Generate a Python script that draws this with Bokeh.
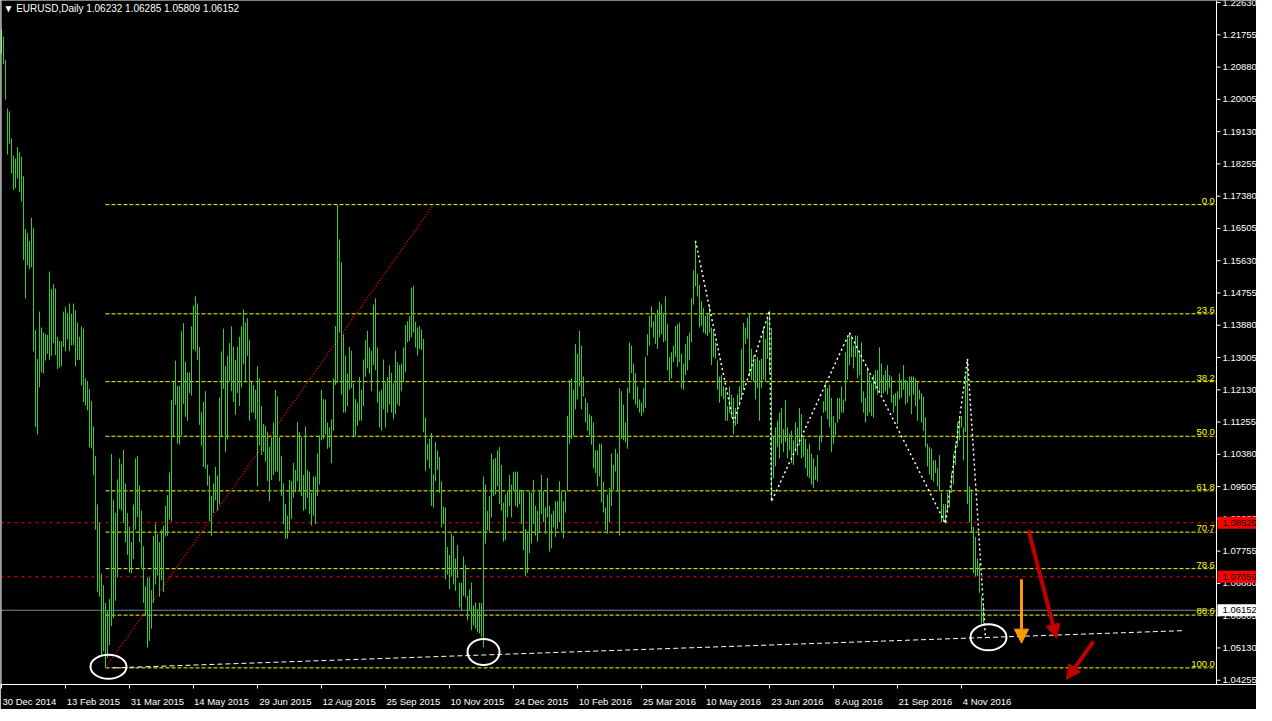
from bokeh.plotting import figure
from bokeh.models import (FixedTicker, LinearAxis, Span, Label, Arrow,
                          NormalHead, Range1d, ColumnDataSource)
from bokeh.embed import file_html
from bokeh.resources import INLINE
from bokeh.core.properties import value

# ---------------- data ----------------
highs = [
1.2190,1.2170,1.2107,1.1976,1.1968,1.1895,1.1848,1.1840,1.1871,1.1857,
1.1845,1.1792,1.1649,1.1638,1.1616,1.1680,1.1651,1.1375,1.1297,1.1425,
1.1382,1.1369,1.1364,1.1362,1.1534,1.1486,1.1499,1.1488,1.1357,1.1345,
1.1345,1.1425,1.1438,1.1422,1.1447,1.1419,1.1447,1.1428,1.1396,1.1357,
1.1385,1.1379,1.1244,1.1237,1.1215,1.1183,1.1114,1.1033,1.0902,1.0853,
1.0715,1.0683,1.0635,1.0614,1.0646,1.1039,1.0914,1.0879,1.0970,1.1027,
1.1013,1.1050,1.0959,1.0879,1.0842,1.0800,1.0902,1.1027,1.1033,1.0954,
1.0885,1.0789,1.0680,1.0704,1.0704,1.0670,1.0817,1.0850,1.0822,1.0800,
1.0834,1.0845,1.0898,1.0927,1.0989,1.1186,1.1235,1.1292,1.1224,1.1224,
1.1372,1.1394,1.1289,1.1260,1.1260,1.1385,1.1442,1.1467,1.1447,1.1329,
1.1152,1.1180,1.1209,1.1010,1.0981,1.0925,1.0959,1.1004,1.0981,1.1192,
1.1317,1.1379,1.1277,1.1305,1.1340,1.1385,1.1329,1.1294,1.1329,1.1357,
1.1385,1.1431,1.1396,1.1407,1.1348,1.1235,1.1226,1.1213,1.1277,1.1244,
1.1169,1.1120,1.1115,1.1098,1.1058,1.1084,1.1124,1.1213,1.1195,1.1084,
1.1034,1.0960,1.0903,1.0872,1.0969,1.0965,1.1015,1.0996,1.1126,1.1098,
1.1084,1.0982,1.1113,1.0996,1.0991,1.0934,1.0978,1.0978,1.1040,1.1089,
1.1213,1.1187,1.1187,1.1124,1.1111,1.1133,1.1244,1.1386,1.1714,1.1621,
1.1559,1.1364,1.1306,1.1257,1.1330,1.1319,1.1231,1.1188,1.1178,1.1248,
1.1213,1.1295,1.1348,1.1373,1.1328,1.1319,1.1444,1.1461,1.1328,1.1209,
1.1213,1.1295,1.1233,1.1248,1.1280,1.1259,1.1231,1.1319,1.1288,1.1280,
1.1284,1.1328,1.1389,1.1399,1.1413,1.1490,1.1495,1.1397,1.1382,1.1386,
1.1377,1.1351,1.1138,1.1067,1.1080,1.1096,1.0984,1.1071,1.1049,1.1031,
1.0965,1.0896,1.0894,1.0787,1.0765,1.0823,1.0816,1.0756,1.0792,1.0690,
1.0690,1.0761,1.0738,1.0654,1.0672,1.0690,1.0628,1.0636,1.0619,1.0636,
1.0635,1.0978,1.0956,1.0885,1.0925,1.1040,1.1025,1.1028,1.1049,1.1058,
1.1009,1.0907,1.0929,1.0938,1.0982,1.0956,1.0991,1.0991,1.0991,1.0942,
1.0942,1.0942,1.0836,1.0823,1.0938,1.0934,1.0969,1.0898,1.0885,1.0938,
1.0982,1.0938,1.0894,1.0974,1.0898,1.0876,1.0885,1.0911,1.0911,1.0965,
1.0938,1.0911,1.0938,1.1142,1.1240,1.1244,1.1213,1.1337,1.1311,1.1373,
1.1333,1.1249,1.1191,1.1178,1.1147,1.1142,1.1124,1.1049,1.1049,1.1067,
1.1067,1.0963,1.0894,1.0929,1.0947,1.1040,1.1009,1.1053,1.1040,1.1217,
1.1209,1.1173,1.1124,1.1217,1.1342,1.1333,1.1284,1.1258,1.1222,1.1187,
1.1178,1.1217,1.1302,1.1364,1.1413,1.1439,1.1399,1.1417,1.1430,1.1452,
1.1444,1.1422,1.1466,1.1391,1.1302,1.1315,1.1333,1.1386,1.1391,1.1395,
1.1311,1.1284,1.1337,1.1359,1.1368,1.1461,1.1537,1.1617,1.1528,1.1497,
1.1453,1.1435,1.1413,1.1422,1.1444,1.1382,1.1373,1.1342,1.1293,1.1249,
1.1253,1.1222,1.1217,1.1169,1.1222,1.1200,1.1191,1.1164,1.1200,1.1222,
1.1324,1.1395,1.1382,1.1408,1.1420,1.1324,1.1306,1.1297,1.1302,1.1293,
1.1297,1.1382,1.1351,1.1408,1.1427,1.1380,1.1089,1.1111,1.1129,1.1151,
1.1164,1.1107,1.1185,1.1111,1.1093,1.1102,1.1076,1.1124,1.1111,1.1164,
1.1147,1.1084,1.1080,1.1053,1.1067,1.1040,1.1027,1.1005,1.1036,1.1089,
1.1142,1.1182,1.1235,1.1218,1.1226,1.1191,1.1142,1.1124,1.1191,1.1191,
1.1222,1.1187,1.1315,1.1355,1.1368,1.1360,1.1333,1.1360,1.1360,1.1320,
1.1342,1.1209,1.1191,1.1275,1.1253,1.1231,1.1253,1.1266,1.1266,1.1328,
1.1284,1.1253,1.1266,1.1280,1.1253,1.1249,1.1200,1.1204,1.1209,1.1258,
1.1240,1.1280,1.1240,1.1235,1.1249,1.1249,1.1249,1.1244,1.1235,1.1213,
1.1204,1.1195,1.1138,1.1067,1.1058,1.1053,1.1022,1.1022,1.1000,1.1036,
1.0934,1.0903,1.0903,1.0934,1.0943,1.0987,1.1040,1.1067,1.1124,1.1142,
1.1142,1.1111,1.1253,1.1297,1.0951,1.0943,1.0841,1.0814,1.0756,1.0743,
1.0654,1.06285]

lows = [
1.2125,1.2096,1.2000,1.1851,1.1880,1.1800,1.1755,1.1760,1.1786,1.1750,
1.1724,1.1565,1.1460,1.1550,1.1540,1.1545,1.1317,1.1112,1.1092,1.1220,
1.1260,1.1257,1.1292,1.1310,1.1294,1.1305,1.1340,1.1307,1.1269,1.1273,
1.1277,1.1329,1.1317,1.1350,1.1317,1.1334,1.1334,1.1277,1.1294,1.1294,
1.1225,1.1180,1.1171,1.1157,1.1057,1.1054,1.0981,1.0834,1.0664,1.0652,
1.0494,1.0504,1.0459,1.0487,1.0521,1.0572,1.0594,1.0641,1.0704,1.0890,
1.0885,1.0851,1.0800,1.0765,1.0717,1.0715,1.0754,1.0834,1.0868,1.0800,
1.0731,1.0635,1.0600,1.0514,1.0532,1.0565,1.0635,1.0685,1.0709,1.0652,
1.0697,1.0664,1.0815,1.0817,1.0861,1.0856,1.1084,1.1172,1.1067,1.1064,
1.1089,1.1175,1.1140,1.1129,1.1204,1.1197,1.1322,1.1317,1.1294,1.1118,
1.1061,1.1004,1.0999,1.0953,1.0856,1.0817,1.0879,1.0913,1.0885,1.0902,
1.1084,1.1215,1.1044,1.1079,1.1237,1.1209,1.1180,1.1145,1.1204,1.1169,
1.1220,1.1282,1.1237,1.1305,1.1129,1.1151,1.1151,1.1133,1.0951,1.1062,
1.1036,1.1045,1.1018,1.0965,1.0911,1.0969,1.0982,1.0991,1.0991,1.0965,
1.0925,1.0849,1.0809,1.0809,1.0832,1.0863,1.0920,1.0935,1.0965,1.0938,
1.0925,1.0885,1.0889,1.0920,1.0876,1.0845,1.0872,1.0849,1.0925,1.0956,
1.1076,1.1080,1.1093,1.1053,1.1058,1.1014,1.1102,1.1226,1.1231,1.1368,
1.1200,1.1151,1.1151,1.1169,1.1213,1.1218,1.1084,1.1089,1.1115,1.1129,
1.1129,1.1169,1.1248,1.1271,1.1257,1.1209,1.1280,1.1266,1.1178,1.1111,
1.1102,1.1160,1.1111,1.1151,1.1173,1.1151,1.1133,1.1147,1.1173,1.1169,
1.1209,1.1235,1.1262,1.1342,1.1346,1.1355,1.1368,1.1328,1.1306,1.1324,
1.1321,1.1098,1.0993,1.1022,1.1000,1.0898,1.0894,1.0965,1.0996,1.0934,
1.0840,1.0849,1.0699,1.0712,1.0672,1.0707,1.0685,1.0668,1.0703,1.0623,
1.0614,1.0654,1.0650,1.0588,1.0614,1.0561,1.0574,1.0566,1.0557,1.0552,
1.0543,1.0515,1.0796,1.0832,1.0827,1.0867,1.0925,1.0929,1.0951,1.0903,
1.0885,1.0801,1.0805,1.0867,1.0898,1.0867,1.0938,1.0898,1.0894,1.0903,
1.0849,1.0778,1.0708,1.0716,1.0770,1.0796,1.0849,1.0818,1.0801,1.0827,
1.0876,1.0854,1.0823,1.0867,1.0774,1.0783,1.0840,1.0814,1.0836,1.0854,
1.0827,1.0810,1.0880,1.0938,1.1067,1.1080,1.1089,1.1160,1.1187,1.1222,
1.1160,1.1195,1.1124,1.1102,1.1089,1.1064,1.1000,1.0987,1.0951,1.0978,
1.0907,1.0880,1.0832,1.0823,1.0854,1.0898,1.0942,1.0991,1.0938,1.0818,
1.1080,1.1076,1.1071,1.1053,1.1204,1.1258,1.1187,1.1173,1.1164,1.1151,
1.1142,1.1151,1.1164,1.1306,1.1333,1.1382,1.1355,1.1337,1.1324,1.1355,
1.1364,1.1342,1.1346,1.1266,1.1235,1.1244,1.1288,1.1302,1.1275,1.1288,
1.1217,1.1213,1.1253,1.1266,1.1293,1.1342,1.1444,1.1493,1.1466,1.1382,
1.1386,1.1368,1.1364,1.1359,1.1368,1.1280,1.1302,1.1297,1.1213,1.1178,
1.1195,1.1187,1.1129,1.1129,1.1151,1.1138,1.1093,1.1115,1.1120,1.1169,
1.1191,1.1213,1.1337,1.1351,1.1249,1.1240,1.1235,1.1187,1.1218,1.1129,
1.1218,1.1240,1.1235,1.1297,1.1257,1.0910,1.0973,1.1005,1.1058,1.1027,
1.1067,1.1044,1.1071,1.1027,1.1049,1.1014,1.1009,1.1044,1.1036,1.1062,
1.1027,1.1031,1.1000,1.0978,1.0973,1.0956,1.0947,1.0969,1.0964,1.1049,
1.1071,1.1151,1.1155,1.1133,1.1111,1.1044,1.1067,1.1089,1.1124,1.1133,
1.1151,1.1151,1.1182,1.1240,1.1280,1.1302,1.1271,1.1302,1.1244,1.1253,
1.1178,1.1151,1.1124,1.1142,1.1151,1.1142,1.1138,1.1213,1.1200,1.1204,
1.1200,1.1204,1.1209,1.1200,1.1218,1.1178,1.1151,1.1169,1.1120,1.1187,
1.1191,1.1213,1.1173,1.1178,1.1195,1.1147,1.1200,1.1169,1.1129,1.1187,
1.1124,1.1102,1.1058,1.1005,1.0983,1.0969,1.0964,1.0987,1.0951,1.0938,
1.0854,1.0854,1.0850,1.0880,1.0894,1.0934,1.0956,1.1009,1.1058,1.1076,
1.1111,1.1022,1.1098,1.0903,1.0854,1.0827,1.0716,1.0708,1.0708,1.0663,
1.0579,1.05809]

bar_idx = list(range(len(highs)))

date_labels = ["30 Dec 2014", "13 Feb 2015", "31 Mar 2015", "14 May 2015",
               "29 Jun 2015", "12 Aug 2015", "25 Sep 2015", "10 Nov 2015",
               "24 Dec 2015", "10 Feb 2016", "25 Mar 2016", "10 May 2016",
               "23 Jun 2016", "8 Aug 2016", "21 Sep 2016", "4 Nov 2016"]
date_idx = [0, 32, 64, 96, 128, 160, 192, 224, 256, 288, 320, 352, 384, 416, 448, 480]

price_ticks = [1.04255, 1.05130, 1.06005, 1.06880, 1.07755, 1.08630, 1.09505,
               1.10380, 1.11255, 1.12130, 1.13005, 1.13880, 1.14755, 1.15630,
               1.16505, 1.17380, 1.18255, 1.19130, 1.20005, 1.20880, 1.21755, 1.22630]

fib_names = ["0.0", "23.6", "38.2", "50.0", "61.8", "70.7", "78.6", "88.6", "100.0"]
fib_prices = [1.1715, 1.1419, 1.1235, 1.1087, 1.0939, 1.0827, 1.0728, 1.0602, 1.0459]
fib_start_bar = 52
fib_diag_x = [52, 216]
fib_diag_y = [1.0459, 1.1715]

trend_x = [56, 591]
trend_y = [1.0459, 1.0560]

zig_x = [347, 366, 384, 385, 424, 472, 483, 492]
zig_y = [1.1617, 1.1124, 1.1427, 1.0910, 1.1368, 1.0850, 1.1297, 1.0539]

circle_x = [53.5, 241, 493.5]
circle_y = [1.0462, 1.0502, 1.0542]

red_lines = [1.08526, 1.07059]
last_price = 1.06152
header = "\u25BC  EURUSD,Daily  1.06232 1.06285 1.05809 1.06152"

# ---------------- figure ----------------
FW, FH = 1256, 684
YMIN, YMAX = 1.04139, 1.22686
XMIN = -0.5
XMAX = XMIN + FW / 2.0
XA = XMIN + 1216 / 2.0          # position of the price scale line
PXY = FH / (YMAX - YMIN)
FONT = "Liberation Sans"
FS = "9.5px"

p = figure(frame_width=FW, frame_height=FH,
           x_range=Range1d(XMIN, XMAX), y_range=Range1d(YMIN, YMAX),
           output_backend="svg", toolbar_location=None,
           x_axis_location=None, y_axis_location=None,
           background_fill_color="black", border_fill_color="black",
           min_border_left=0, min_border_top=0, min_border_right=0,
           min_border_bottom=20, outline_line_color=None)
p.xgrid.grid_line_color = None
p.ygrid.grid_line_color = None

# bottom time axis: tick marks at the dates, labels left-aligned after them
lab_pos = [d + 0.5 + 4.9 * len(t) / 4.0 for d, t in zip(date_idx, date_labels)]
xax = LinearAxis(ticker=FixedTicker(ticks=lab_pos, minor_ticks=date_idx),
                 major_label_overrides={lp: t for lp, t in zip(lab_pos, date_labels)},
                 axis_line_color="white", major_tick_line_color=None,
                 minor_tick_line_color="white", minor_tick_out=4, minor_tick_in=0,
                 major_label_text_color="white", major_label_text_font=FONT,
                 major_label_text_font_size=FS, major_label_standoff=5)
p.add_layout(xax, "below")

# left frame border and price-scale line
p.add_layout(Span(location=XMIN + 0.25, dimension="height", line_color="white", line_width=1))
p.add_layout(Span(location=XA, dimension="height", line_color="white", line_width=1))

# price scale ticks and labels
n = len(price_ticks)
tsrc = ColumnDataSource(dict(x0=[XA] * n, x1=[XA + 2] * n, y=price_ticks,
                             xt=[XA + 3] * n, t=["%.5f" % v for v in price_ticks]))
p.segment(x0="x0", y0="y", x1="x1", y1="y", source=tsrc, line_color="white")
p.text(x="xt", y="y", text="t", source=tsrc, text_color="white",
       text_baseline="middle", text_align="left",
       text_font=value(FONT), text_font_size=FS)

# horizontal price lines
p.segment(x0=[XMIN] * 2, y0=red_lines, x1=[XA] * 2, y1=red_lines,
          line_color="#ff0000", line_dash="3 4", line_width=1)
p.segment(x0=[XMIN], y0=[last_price], x1=[XA], y1=[last_price],
          line_color="#778899", line_width=1)

# fibonacci levels
m = len(fib_prices)
fsrc = ColumnDataSource(dict(x0=[fib_start_bar] * m, x1=[XA] * m,
                             y=fib_prices, name=fib_names, xt=[XA - 0.8] * m))
p.segment(x0="x0", y0="y", x1="x1", y1="y", source=fsrc,
          line_color="#ffff00", line_dash="4 2", line_width=1)
p.text(x="xt", y="y", text="name", source=fsrc, text_color="#ffff00",
       text_align="right", text_baseline="bottom", y_offset=-1,
       text_font=value(FONT), text_font_size=FS)
p.line(fib_diag_x, fib_diag_y, line_color="#ff0000", line_dash="1 2", line_width=1.5)

# daily bars
bsrc = ColumnDataSource(dict(x=bar_idx, hi=highs, lo=lows))
p.segment(x0="x", y0="lo", x1="x", y1="hi", source=bsrc,
          line_color="#32cd32", line_width=1)

# trend line and zig-zag
p.line(trend_x, trend_y, line_color="white", line_dash="5 3", line_width=1)
p.line(zig_x, zig_y, line_color="white", line_dash="2 3", line_width=1.5)

# circles
p.ellipse(x=circle_x, y=circle_y, width=[36, 32, 36], height=[24, 26, 26],
          width_units="screen", height_units="screen",
          fill_color=None, line_color="white", line_width=2)

# arrows
p.add_layout(Arrow(x_start=510, y_start=1.0699, x_end=510, y_end=1.0526,
                   line_color="#ff9900", line_width=3,
                   end=NormalHead(size=14, fill_color="#ff9900", line_color="#ff9900")))
p.add_layout(Arrow(x_start=513.5, y_start=1.0832, x_end=527.5, y_end=1.0539,
                   line_color="#c00000", line_width=4,
                   end=NormalHead(size=14, fill_color="#c00000", line_color="#c00000")))
p.add_layout(Arrow(x_start=546, y_start=1.0531, x_end=532.5, y_end=1.0428,
                   line_color="#c00000", line_width=4,
                   end=NormalHead(size=14, fill_color="#c00000", line_color="#c00000")))

# price tags on the price scale
tag_y = red_lines + [last_price]
tag_fill = ["#ff0000", "#ff0000", "white"]
half = 6.0 / PXY
gsrc = ColumnDataSource(dict(l=[XA + 0.5] * 3, r=[XMAX] * 3,
                             b=[v - half for v in tag_y], t=[v + half for v in tag_y],
                             c=tag_fill, y=tag_y, xt=[XA + 3] * 3,
                             s=["%.5f" % v for v in tag_y]))
p.quad(left="l", right="r", bottom="b", top="t", source=gsrc,
       fill_color="c", line_color=None)
p.text(x="xt", y="y", text="s", source=gsrc, text_color="black",
       text_baseline="middle", text_align="left",
       text_font=value(FONT), text_font_size=FS)

# header
p.add_layout(Label(x=1.0, y=YMAX, y_offset=-2, text=header, text_color="white",
                   text_font=FONT, text_font_size="10px", text_baseline="top"))

open("out.html", "w").write(file_html(p, INLINE))
